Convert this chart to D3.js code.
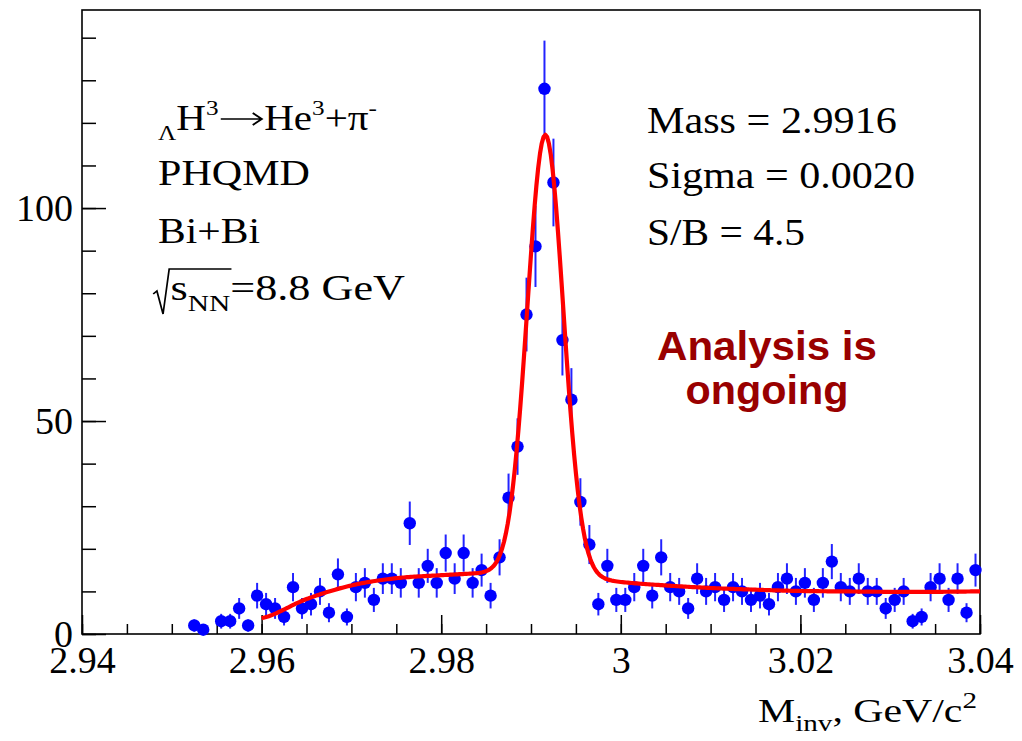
<!DOCTYPE html>
<html>
<head>
<meta charset="utf-8">
<script src="https://cdn.jsdelivr.net/npm/d3@7"></script>
<style>
  html, body { margin: 0; padding: 0; background: #fff; }
  svg { display: block; }
</style>
</head>
<body>
<svg id="chart" width="1022" height="741"></svg>
<script>
// Invariant-mass histogram of He3 + pi- pairs: bin centres (GeV/c^2) and entries
const binCenters = [
  2.9525, 2.9535, 2.9555, 2.9565, 2.9575, 2.9585, 2.9595, 2.9605, 2.9615, 2.9625,
  2.9635, 2.9645, 2.9655, 2.9665, 2.9675, 2.9685, 2.9695, 2.9705, 2.9715, 2.9725,
  2.9735, 2.9745, 2.9755, 2.9765, 2.9775, 2.9785, 2.9795, 2.9805, 2.9815, 2.9825,
  2.9835, 2.9845, 2.9855, 2.9865, 2.9875, 2.9885, 2.9895, 2.9905, 2.9915, 2.9925,
  2.9935, 2.9945, 2.9955, 2.9965, 2.9975, 2.9985, 2.9995, 3.0005, 3.0015, 3.0025,
  3.0035, 3.0045, 3.0055, 3.0065, 3.0075, 3.0085, 3.0095, 3.0105, 3.0115, 3.0125,
  3.0135, 3.0145, 3.0155, 3.0165, 3.0175, 3.0185, 3.0195, 3.0205, 3.0215, 3.0225,
  3.0235, 3.0245, 3.0255, 3.0265, 3.0275, 3.0285, 3.0295, 3.0305, 3.0315, 3.0325,
  3.0335, 3.0345, 3.0355, 3.0365, 3.0375, 3.0385, 3.0395
];
const counts = [
  2, 1, 3, 3, 6, 2, 9, 7, 6, 4,
  11, 6, 7, 10, 5, 14, 4, 11, 12, 8,
  13, 13, 12, 26, 12, 16, 12, 19, 13, 19,
  12, 15, 9, 18, 32, 44, 75, 91, 128, 106,
  69, 55, 31, 21, 7, 16, 8, 8, 11, 16,
  9, 18, 11, 10, 6, 13, 10, 11, 8, 11,
  10, 8, 9, 7, 11, 13, 10, 12, 8, 12,
  17, 11, 10, 13, 10, 10, 6, 8, 10, 3,
  4, 11, 13, 8, 13, 5, 15
];

// Fit: Gaussian signal on a smooth background
const fitMass = 2.9916;
const fitSigma = 0.0020;
const fitPeakHeight = 103;
const fitRange = [2.96, 3.04];
const bkgKnotsX = [2.960, 2.965, 2.970, 2.975, 2.980, 2.985, 2.990, 2.995, 3.000,
                   3.005, 3.010, 3.015, 3.020, 3.025, 3.030, 3.035, 3.040];
const bkgKnotsY = [3.7, 8.2, 11.4, 13.1, 13.8, 14.3, 14.4, 13.5, 12.2,
                   11.4, 10.8, 10.4, 10.1, 10.0, 9.9, 9.9, 10.0];

// Axes
const xTickValues = [2.94, 2.96, 2.98, 3.00, 3.02, 3.04];
const xTickLabels = ["2.94", "2.96", "2.98", "3", "3.02", "3.04"];
const yTickValues = [0, 50, 100];
const yTickLabels = ["0", "50", "100"];

const serif = "'Liberation Serif', 'Times New Roman', Times, serif";
const sans = "'Liberation Sans', Arial, Helvetica, sans-serif";

const svg = d3.select("#chart");
svg.append("rect").attr("width", 1022).attr("height", 741).attr("fill", "#fff");

const frame = { left: 82, right: 980, top: 10, bottom: 634 };
const x = d3.scaleLinear().domain([2.94, 3.04]).range([frame.left, frame.right]);
const y = d3.scaleLinear().domain([0, 146.5]).range([frame.bottom, frame.top]);

// ---- axes (ticks point into the frame) ----
function styleAxis(g, size) {
  g.select(".domain").remove();
  g.attr("font-family", serif).attr("font-size", size);
  g.selectAll("line").attr("stroke", "#000").attr("stroke-width", 1.5);
  g.selectAll("text").attr("fill", "#000");
}

const xMinor = d3.range(2.94, 3.0401, 0.005);
svg.append("g").attr("transform", `translate(0,${frame.bottom})`)
  .call(d3.axisBottom(x).tickValues(xMinor).tickSizeInner(-10).tickSizeOuter(0).tickFormat(""))
  .call(g => styleAxis(g, 38));
svg.append("g").attr("transform", `translate(0,${frame.bottom})`)
  .call(d3.axisBottom(x).tickValues(xTickValues)
    .tickFormat(d => xTickLabels[xTickValues.indexOf(d)])
    .tickSizeInner(-19).tickSizeOuter(0).tickPadding(12))
  .call(g => styleAxis(g, 38));

const yMinor = d3.range(0, 141, 10);
svg.append("g").attr("transform", `translate(${frame.left},0)`)
  .call(d3.axisLeft(y).tickValues(yMinor).tickSizeInner(-14).tickSizeOuter(0).tickFormat(""))
  .call(g => styleAxis(g, 38));
svg.append("g").attr("transform", `translate(${frame.left},0)`)
  .call(d3.axisLeft(y).tickValues(yTickValues)
    .tickFormat(d => yTickLabels[yTickValues.indexOf(d)])
    .tickSizeInner(-24).tickSizeOuter(0).tickPadding(9))
  .call(g => styleAxis(g, 38));

// frame
svg.append("rect")
  .attr("x", frame.left).attr("y", frame.top)
  .attr("width", frame.right - frame.left).attr("height", frame.bottom - frame.top)
  .attr("fill", "none").attr("stroke", "#000").attr("stroke-width", 1.6);

// ---- histogram points with sqrt(N) error bars ----
const bins = binCenters.map((m, i) => ({ m, n: counts[i], e: Math.sqrt(counts[i]) }));
const pts = svg.append("g");
pts.selectAll("line.err").data(bins).join("line")
  .attr("class", "err")
  .attr("x1", d => x(d.m)).attr("x2", d => x(d.m))
  .attr("y1", d => y(d.n - d.e)).attr("y2", d => y(d.n + d.e))
  .attr("stroke", "#2323ff").attr("stroke-width", 2);
pts.selectAll("circle").data(bins).join("circle")
  .attr("cx", d => x(d.m)).attr("cy", d => y(d.n)).attr("r", 6.2)
  .attr("fill", "#0000ff");

// ---- fit curve ----
function background(m) {
  const n = bkgKnotsX.length;
  let i = d3.bisectRight(bkgKnotsX, m) - 1;
  i = Math.max(0, Math.min(n - 2, i));
  const t = (m - bkgKnotsX[i]) / (bkgKnotsX[i + 1] - bkgKnotsX[i]);
  const p0 = bkgKnotsY[Math.max(i - 1, 0)], p1 = bkgKnotsY[i];
  const p2 = bkgKnotsY[i + 1], p3 = bkgKnotsY[Math.min(i + 2, n - 1)];
  return 0.5 * (2 * p1 + (-p0 + p2) * t + (2 * p0 - 5 * p1 + 4 * p2 - p3) * t * t +
                (-p0 + 3 * p1 - 3 * p2 + p3) * t * t * t);
}
function fitFn(m) {
  const z = (m - fitMass) / fitSigma;
  return fitPeakHeight * Math.exp(-0.5 * z * z) + background(m);
}
const fitX = d3.range(0, 401).map(k => fitRange[0] + k * (fitRange[1] - fitRange[0]) / 400);
svg.append("path")
  .datum(fitX)
  .attr("d", d3.line().x(d => x(d)).y(d => y(fitFn(d))))
  .attr("fill", "none").attr("stroke", "#ff0000").attr("stroke-width", 4.2)
  .attr("stroke-linejoin", "round");

// ---- text helpers ----
// Lays out pieces {t, size, dy} left to right, then stretches the group to a target width.
function richText(x0, base, targetW, pieces, opts = {}) {
  const g = svg.append("g");
  const inner = g.append("g");
  let cx = 0;
  const marks = [];
  pieces.forEach(p => {
    if (p.mark) { marks.push({ name: p.mark, x: cx }); return; }
    if (p.gap) { cx += p.gap; return; }
    if (p.arrow) {
      const w = p.arrow, ay = -11;
      inner.append("path")
        .attr("d", `M${cx + 2},${ay} H${cx + w - 2} M${cx + w - 10},${ay - 6} L${cx + w - 2},${ay} L${cx + w - 10},${ay + 6}`)
        .attr("fill", "none").attr("stroke", "#000").attr("stroke-width", 1.7);
      cx += w;
      return;
    }
    const t = inner.append("text")
      .attr("x", cx).attr("y", p.dy || 0)
      .attr("font-family", opts.family || serif)
      .attr("font-size", p.size)
      .attr("font-weight", opts.weight || "normal")
      .attr("fill", opts.fill || "#000")
      .text(p.t);
    cx += t.node().getComputedTextLength();
  });
  const w = cx;
  const sx = targetW ? targetW / w : 1;
  const left = opts.anchor === "middle" ? x0 - (w * sx) / 2 :
               opts.anchor === "end" ? x0 - w * sx : x0;
  g.attr("transform", `translate(${left},${base}) scale(${sx},1)`);
  return { g: inner, marks, width: w };
}

// reaction label
richText(158, 130, 219, [
  { t: "\u039B", size: 22, dy: 10 },
  { t: "H", size: 36 },
  { t: "3", size: 22, dy: -15 },
  { arrow: 40 },
  { t: "He", size: 36 },
  { t: "3", size: 22, dy: -15 },
  { t: "+\u03C0", size: 36 },
  { t: "-", size: 22, dy: -15 }
]);
richText(158, 185, 152, [{ t: "PHQMD", size: 36 }]);
richText(158, 243, 102, [{ t: "Bi+Bi", size: 36 }]);

// sqrt(s_NN) line with a drawn radical sign
const rad = richText(152, 300, 253, [
  { gap: 15 },
  { t: "s", size: 36 },
  { t: "NN", size: 24, dy: 11 },
  { mark: "barEnd" },
  { t: "=8.8 GeV", size: 36 }
]);
const barEnd = rad.marks[0].x + 1;
rad.g.append("path")
  .attr("d", `M1,-6 L4,-9 L9,14 L14,-31 L${barEnd},-31`)
  .attr("fill", "none").attr("stroke", "#000").attr("stroke-width", 1.4);

// fit results
richText(647, 133, 250, [{ t: "Mass = 2.9916", size: 38 }]);
richText(647, 188, 268, [{ t: "Sigma = 0.0020", size: 38 }]);
richText(647, 245, 158, [{ t: "S/B = 4.5", size: 38 }]);

// status note
const noteOpts = { family: sans, weight: "bold", fill: "#990000", anchor: "middle" };
richText(767, 360, 220, [{ t: "Analysis is", size: 40 }], noteOpts);
richText(767, 404, 163, [{ t: "ongoing", size: 40 }], noteOpts);

// x-axis title
richText(977, 722, 219, [
  { t: "M", size: 33 },
  { t: "inv", size: 23, dy: 9 },
  { t: ", GeV/c", size: 33 },
  { t: "2", size: 23, dy: -14 }
], { anchor: "end" });
</script>
</body>
</html>
